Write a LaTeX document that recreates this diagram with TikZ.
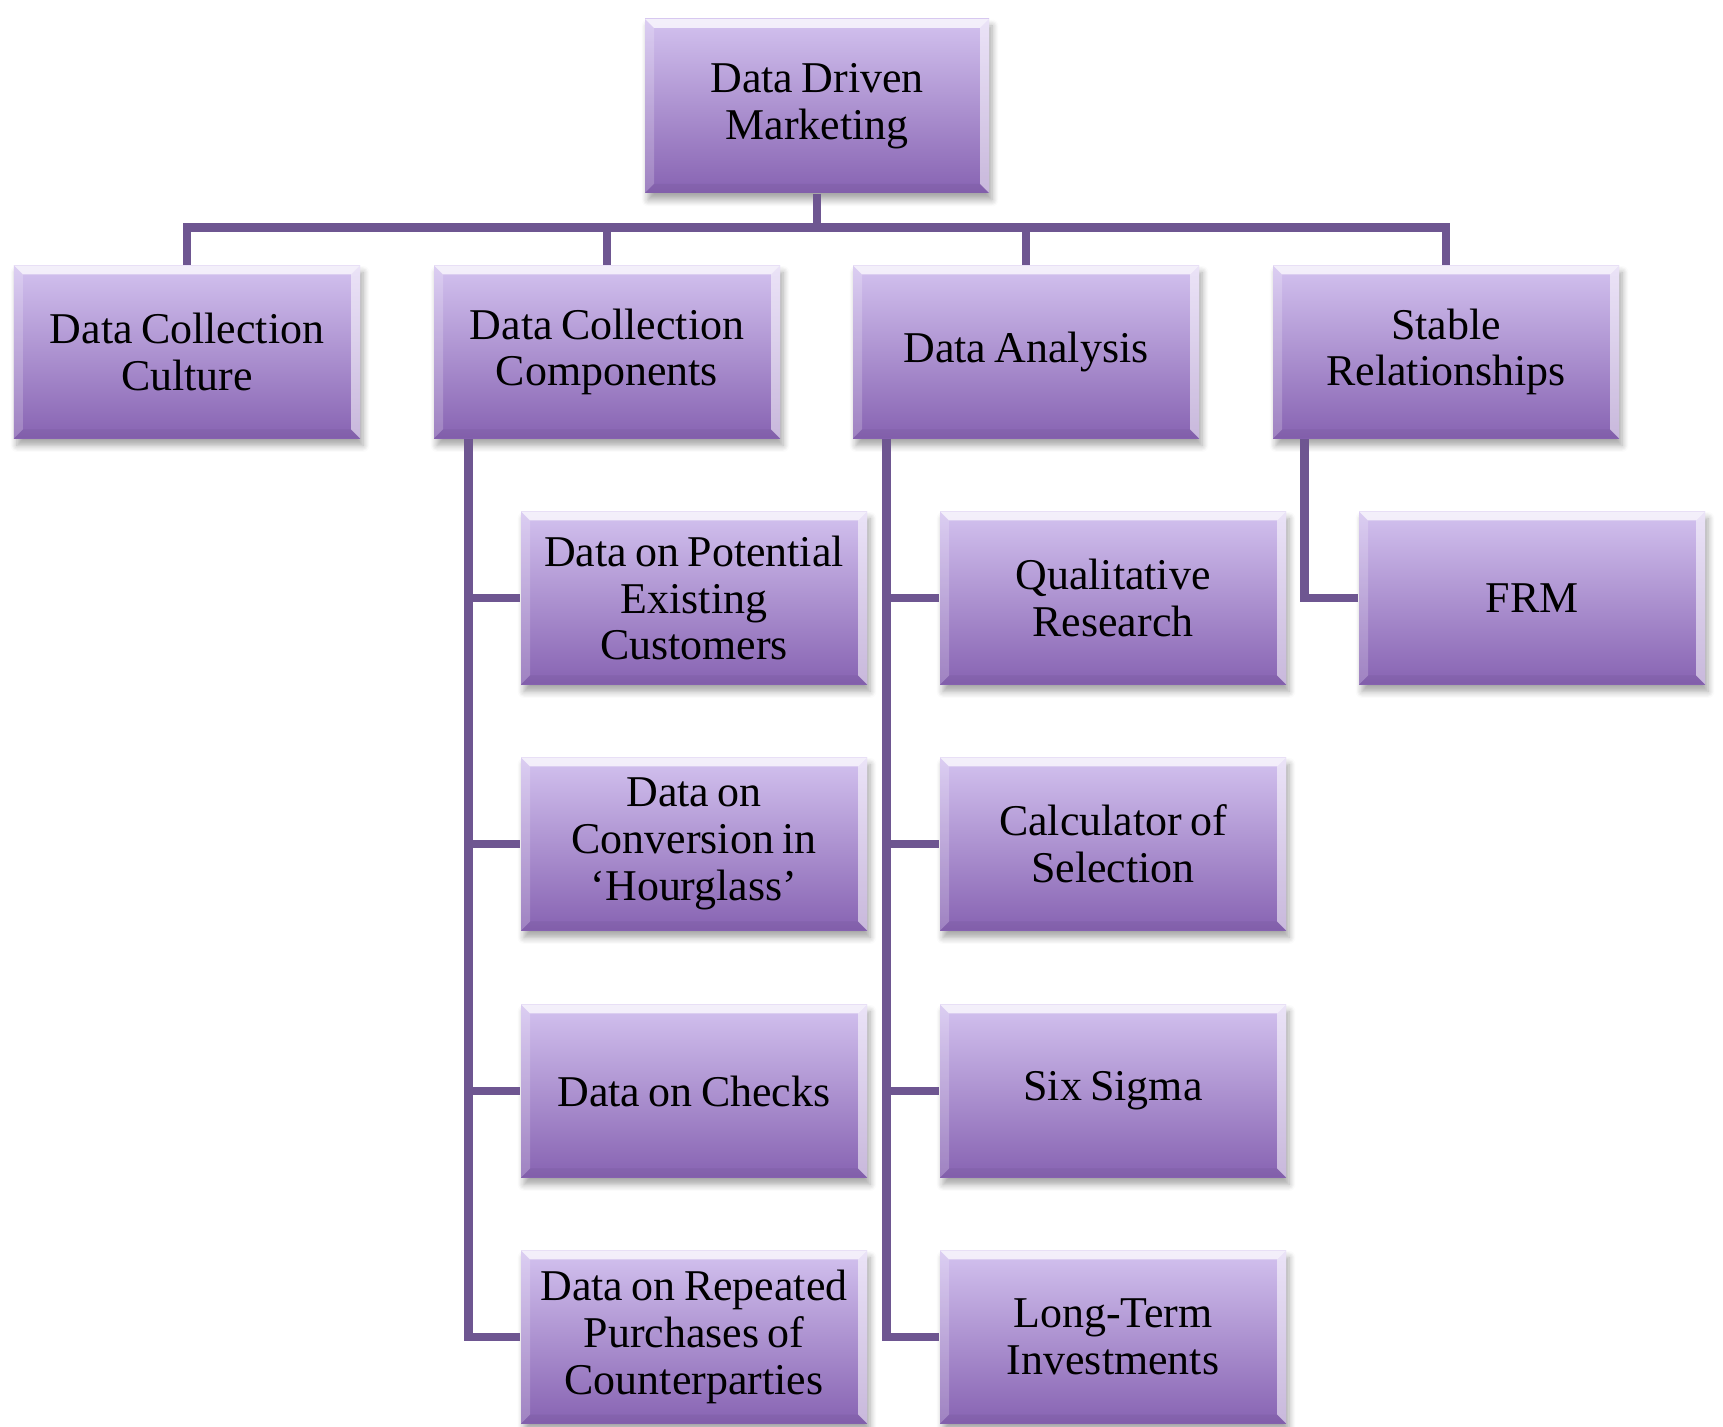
\documentclass[tikz,border=0pt]{standalone}
\usepackage{fontspec}
\setmainfont{Liberation Serif}
\usepackage{tikz}
\usetikzlibrary{positioning, calc, shadows.blur}

\definecolor{boxtop}{HTML}{D3C2EF}
\definecolor{boxbottom}{HTML}{8763B2}
\definecolor{linkcol}{HTML}{6E5691}

\def\bev{0.09cm}
\newcommand\tightspace{\spaceskip=0.19em plus 0.04em\relax}

\tikzset{
    box/.style={
        rectangle, minimum width=3.46cm, minimum height=1.73cm,
        text width=3.4cm, align=flush center, inner sep=0pt,
        top color=boxtop, bottom color=boxbottom,
        font=\fontsize{12.5}{13.3}\selectfont\tightspace,
        blur shadow={shadow xshift=0.03cm, shadow yshift=-0.07cm, shadow blur steps=6, shadow opacity=35},
        path picture={
            % bevel highlights
            \fill[white, opacity=0.75]
                (path picture bounding box.north west) -- (path picture bounding box.north east)
                -- ([xshift=-\bev, yshift=-\bev]path picture bounding box.north east)
                -- ([xshift=\bev, yshift=-\bev]path picture bounding box.north west) -- cycle;
            \fill[white, opacity=0.55]
                (path picture bounding box.north east) -- (path picture bounding box.south east)
                -- ([xshift=-\bev, yshift=\bev]path picture bounding box.south east)
                -- ([xshift=-\bev, yshift=-\bev]path picture bounding box.north east) -- cycle;
            \fill[white, opacity=0.2]
                (path picture bounding box.north west) -- (path picture bounding box.south west)
                -- ([xshift=\bev, yshift=\bev]path picture bounding box.south west)
                -- ([xshift=\bev, yshift=-\bev]path picture bounding box.north west) -- cycle;
            \fill[boxbottom!80!black, opacity=0.2]
                (path picture bounding box.south west) -- (path picture bounding box.south east)
                -- ([xshift=-\bev, yshift=\bev]path picture bounding box.south east)
                -- ([xshift=\bev, yshift=\bev]path picture bounding box.south west) -- cycle;
        }
    },
    link/.style={draw=linkcol, line width=2.4pt}
}

\begin{document}
\begin{tikzpicture}
    \useasboundingbox (0,0) rectangle (17.23,-14.27);

    % top of the tree
    \node[box, minimum width=3.44cm, minimum height=1.74cm] (root) at (8.17,-1.06) {Data Driven\\Marketing};

    % first level
    \foreach \name/\x/\label in {
        culture/1.87/{Data Collection\\Culture},
        components/6.07/{Data Collection\\Components},
        analysis/10.26/{Data Analysis},
        relations/14.46/{Stable\\Relationships}}{
        \node[box] (\name) at (\x,-3.52) {\label};
    }

    % components column
    \foreach \i/\y/\label in {
        1/5.98/{Data on Potential\\Existing\\Customers},
        2/8.44/{Data on\\Conversion in\\‘Hourglass’},
        3/10.91/{Data on Checks},
        4/13.37/{Data on Repeated\\Purchases of\\Counterparties}}{
        \node[box] (comp\i) at (6.94,-\y) {\label};
    }

    % analysis column
    \foreach \i/\y/\label in {
        1/5.98/{Qualitative\\Research},
        2/8.44/{Calculator of\\Selection},
        3/10.91/{Six Sigma},
        4/13.37/{Long-Term\\Investments}}{
        \node[box] (anal\i) at (11.13,-\y) {\label};
    }

    \node[box] (frm) at (15.32,-5.98) {FRM};

    % connectors
    \coordinate (bar) at ($(root.south)+(0,-0.34)$);
    \draw[link] (root.south) -- (bar);
    \foreach \name in {culture, components, analysis, relations}
    {
        \draw[link] (bar) -| (\name.north);
    }

    \coordinate (comptrunk) at ([xshift=0.35cm]components.south west);
    \coordinate (analtrunk) at ([xshift=0.34cm]analysis.south west);
    \coordinate (reltrunk) at ([xshift=0.32cm]relations.south west);
    \foreach \i in {1,...,4}
    {
        \draw[link] (comptrunk) |- (comp\i.west);
        \draw[link] (analtrunk) |- (anal\i.west);
    }
    \draw[link] (reltrunk) |- (frm.west);
\end{tikzpicture}
\end{document}
